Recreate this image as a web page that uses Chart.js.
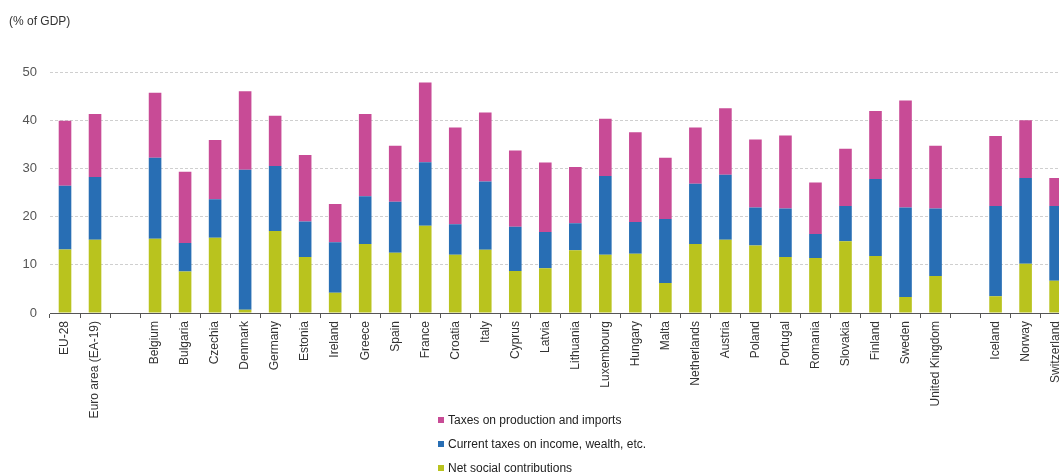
<!DOCTYPE html>
<html>
<head>
<meta charset="utf-8">
<script src="https://cdn.jsdelivr.net/npm/chart.js@4"></script>
<style>
  html, body { margin: 0; padding: 0; background: #fff; overflow: hidden; }
  #wrap { position: relative; width: 1073px; height: 475px; }
  #legend { position: absolute; left: 438px; top: 408px; font-family: "Liberation Sans", Arial, sans-serif; font-size: 12px; color: #222; }
  #legend .item { height: 24px; line-height: 24px; white-space: nowrap; }
  #legend .box { display: inline-block; width: 6px; height: 6px; margin-right: 4px; vertical-align: middle; position: relative; top: -1px; }
</style>
</head>
<body>
<div id="wrap">
  <canvas id="c"></canvas>
  <div id="legend"></div>
</div>
<script>
const categories = ['EU-28', 'Euro area (EA-19)', '', 'Belgium', 'Bulgaria', 'Czechia', 'Denmark', 'Germany', 'Estonia', 'Ireland', 'Greece', 'Spain', 'France', 'Croatia', 'Italy', 'Cyprus', 'Latvia', 'Lithuania', 'Luxembourg', 'Hungary', 'Malta', 'Netherlands', 'Austria', 'Poland', 'Portugal', 'Romania', 'Slovakia', 'Finland', 'Sweden', 'United Kingdom', '', 'Iceland', 'Norway', 'Switzerland'];

const netSocialContributions = [13.2, 15.2, null, 15.4, 8.6, 15.6, 0.7, 17.0, 11.6, 4.2, 14.3, 12.5, 18.1, 12.1, 13.1, 8.7, 9.3, 13.0, 12.1, 12.3, 6.2, 14.3, 15.2, 14.0, 11.6, 11.4, 14.9, 11.8, 3.3, 7.7, null, 3.5, 10.2, 6.7];
const currentTaxesIncome = [13.2, 13.0, null, 16.8, 5.9, 8.0, 29.0, 13.5, 7.4, 10.5, 9.9, 10.6, 13.2, 6.3, 14.2, 9.2, 7.5, 5.6, 16.3, 6.6, 13.3, 12.5, 13.5, 7.9, 10.1, 5.0, 7.3, 16.0, 18.6, 14.0, null, 18.7, 17.8, 15.5];
const taxesProduction = [13.5, 13.1, null, 13.5, 14.8, 12.3, 16.3, 10.4, 13.8, 7.9, 17.1, 11.6, 16.5, 20.1, 14.3, 15.8, 14.4, 11.7, 11.9, 18.6, 12.7, 11.7, 13.8, 14.1, 15.1, 10.7, 11.9, 14.1, 22.2, 13.0, null, 14.5, 12.0, 5.8];

const yTickValues = [0, 10, 20, 30, 40, 50];
const seriesLabels = ['Taxes on production and imports', 'Current taxes on income, wealth, etc.', 'Net social contributions'];
const seriesColors = ['#C84B96', '#286EB4', '#B9C31E'];
const unitTitle = '(% of GDP)';

Chart.defaults.font.family = '"Liberation Sans", Arial, sans-serif';
Chart.defaults.font.size = 12;
Chart.defaults.color = '#333';

const datasets = [
  { label: seriesLabels[2], data: netSocialContributions, backgroundColor: seriesColors[2] },
  { label: seriesLabels[1], data: currentTaxesIncome, backgroundColor: seriesColors[1] },
  { label: seriesLabels[0], data: taxesProduction, backgroundColor: seriesColors[0] }
].map(d => Object.assign(d, { barPercentage: 0.42, categoryPercentage: 1.0, borderWidth: 0 }));

new Chart(document.getElementById('c'), {
  type: 'bar',
  data: { labels: categories, datasets: datasets },
  options: {
    responsive: true,
    maintainAspectRatio: false,
    animation: false,
    layout: { padding: { left: 9, right: 0, top: 0, bottom: 0 } },
    plugins: {
      legend: { display: false },
      tooltip: { enabled: false },
      title: {
        display: true,
        text: unitTitle,
        align: 'start',
        color: '#333',
        font: { size: 12, weight: 'normal', lineHeight: 1.2 },
        padding: { top: 14, bottom: 43.6 }
      }
    },
    scales: {
      x: {
        stacked: true,
        afterFit: s => { s.height = 162; },
        grid: { display: true, drawOnChartArea: false, drawTicks: true, tickLength: 5, color: '#555', offset: true },
        border: { display: true, color: '#555', width: 1 },
        ticks: { autoSkip: false, minRotation: 90, maxRotation: 90, padding: 3, color: '#333', font: { size: 12 } }
      },
      y: {
        stacked: true,
        min: yTickValues[0],
        max: yTickValues[yTickValues.length - 1],
        afterFit: s => { s.width = 41; },
        afterBuildTicks: s => { s.ticks = yTickValues.map(v => ({ value: v })); },
        grid: { color: '#cfcfcf', drawTicks: false, lineWidth: 1 },
        border: { display: false, dash: [3, 2] },
        ticks: { padding: 13, color: '#555', font: { size: 13 } }
      }
    }
  }
});

const legendEl = document.getElementById('legend');
seriesLabels.forEach((lab, i) => {
  const row = document.createElement('div');
  row.className = 'item';
  const box = document.createElement('span');
  box.className = 'box';
  box.style.background = seriesColors[i];
  row.appendChild(box);
  row.appendChild(document.createTextNode(lab));
  legendEl.appendChild(row);
});
</script>
</body>
</html>
